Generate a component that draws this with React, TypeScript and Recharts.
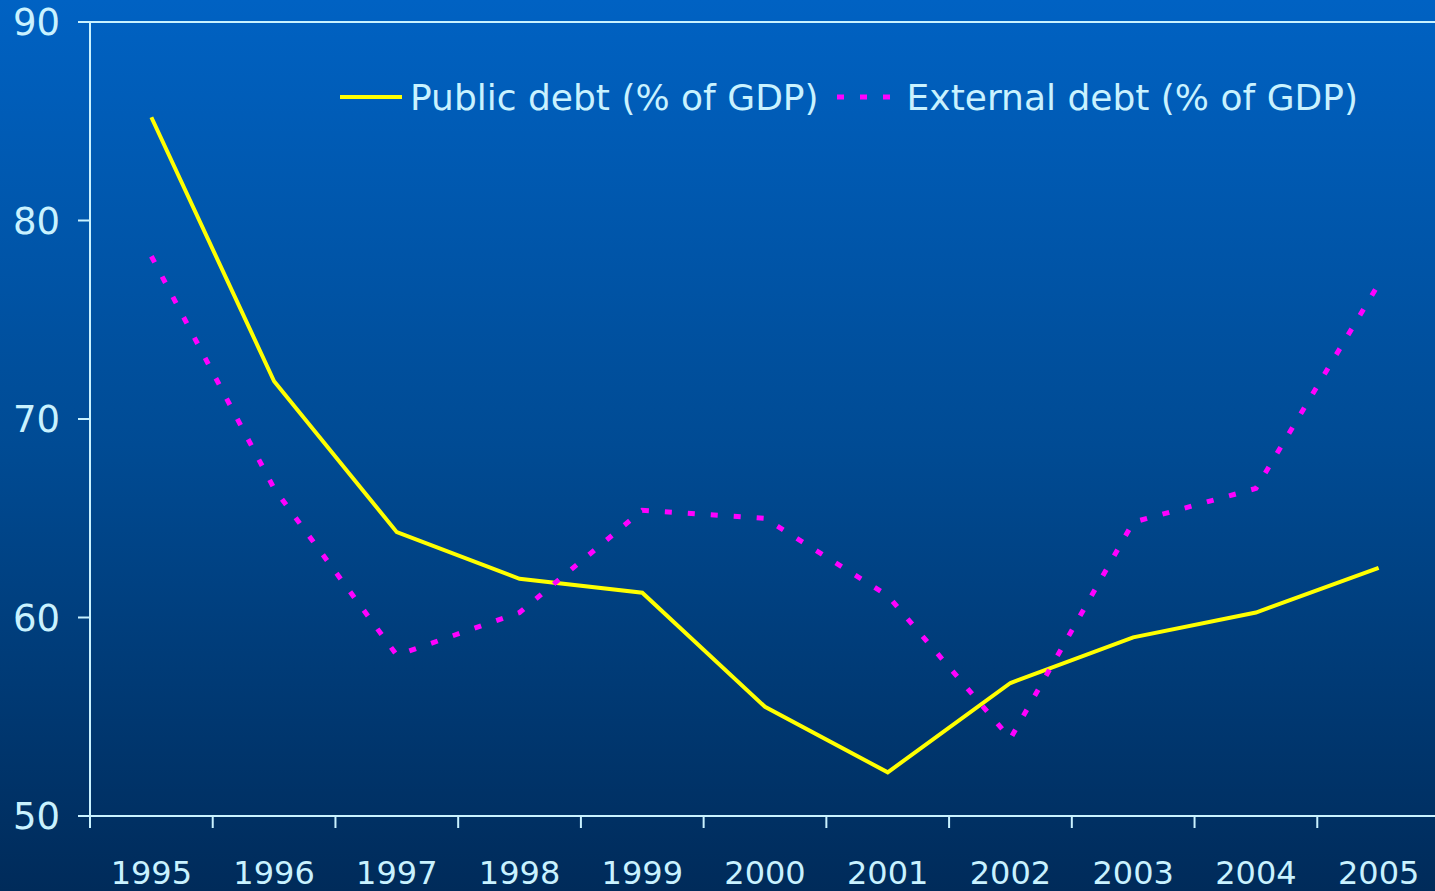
import { LineChart, Line, XAxis, YAxis, ReferenceLine } from "recharts"

const years = ["1995", "1996", "1997", "1998", "1999", "2000", "2001", "2002", "2003", "2004", "2005"]
const publicDebt = [85.2, 71.9, 64.3, 61.95, 61.25, 55.5, 52.2, 56.7, 59.0, 60.25, 62.5]
const externalDebt = [78.2, 66.5, 58.1, 60.25, 65.4, 65.0, 61.1, 53.9, 64.8, 66.5, 76.8]
const yTicks = [50, 60, 70, 80, 90]

const INK = "#c9f2ff"
const FONT = "'DejaVu Sans', Verdana, sans-serif"

// x is numeric so ticks can sit on category boundaries and labels in the middle
const data = years.map((year, i) => ({
  x: i + 0.5,
  year,
  publicDebt: publicDebt[i],
  externalDebt: externalDebt[i],
}))

const xTicks: number[] = []
for (let i = 0; i <= years.length; i++) {
  xTicks.push(i)
  if (i < years.length) xTicks.push(i + 0.5)
}

const series = [
  { key: "publicDebt", name: "Public debt (% of GDP)", color: "#ffff00", width: 4, dash: undefined as string | undefined },
  { key: "externalDebt", name: "External debt (% of GDP)", color: "#ff00ff", width: 5, dash: "7 16" },
]

const XTick = ({ x, y, payload }: any) => {
  const v = payload.value
  if (Number.isInteger(v)) {
    return <line x1={x} x2={x} y1={y} y2={y + 12} stroke={INK} strokeWidth={2} />
  }
  return (
    <text x={x} y={y + 68} textAnchor="middle" fill={INK} fontSize={32} fontFamily={FONT}>
      {years[Math.floor(v)]}
    </text>
  )
}

const ChartLegend = () => (
  <div
    style={{
      position: "absolute",
      top: 74,
      left: 340,
      display: "flex",
      alignItems: "center",
      fontFamily: FONT,
      fontSize: 36,
      color: INK,
      whiteSpace: "nowrap",
      height: 46,
    }}
  >
    {series.map((s) => (
      <div key={s.key} style={{ display: "flex", alignItems: "center", marginRight: 18 }}>
        <svg width={s.dash ? 56 : 62} height={10} style={{ marginRight: s.dash ? 14 : 8 }}>
          <line x1={0} x2={s.dash ? 56 : 62} y1={5} y2={5} stroke={s.color} strokeWidth={s.dash ? 5 : 4} strokeDasharray={s.dash} />
        </svg>
        <span>{s.name}</span>
      </div>
    ))}
  </div>
)

export default function App() {
  return (
    <div
      style={{
        position: "absolute",
        left: 0,
        top: 0,
        width: 1435,
        height: 891,
        overflow: "hidden",
        background: "linear-gradient(to bottom, #0062c3 0%, #004b94 50%, #002b5a 100%)",
      }}
    >
      <LineChart width={1440} height={891} data={data} margin={{ top: 22, right: 0, bottom: 0, left: 0 }}>
        <XAxis
          dataKey="x"
          type="number"
          domain={[0, years.length]}
          ticks={xTicks}
          interval={0}
          tick={<XTick />}
          tickLine={false}
          tickSize={0}
          tickMargin={0}
          height={75}
          axisLine={{ stroke: INK, strokeWidth: 2 }}
        />
        <YAxis
          domain={[50, 90]}
          ticks={yTicks}
          width={90}
          tickSize={12}
          tickMargin={18}
          tickLine={{ stroke: INK, strokeWidth: 2 }}
          axisLine={{ stroke: INK, strokeWidth: 2 }}
          tick={{ fill: INK, fontSize: 37, fontFamily: FONT }}
        />
        <ReferenceLine y={90} stroke={INK} strokeWidth={2} />
        {series.map((s) => (
          <Line
            key={s.key}
            dataKey={s.key}
            name={s.name}
            stroke={s.color}
            strokeWidth={s.width}
            strokeDasharray={s.dash}
            dot={false}
            activeDot={false}
            type="linear"
            isAnimationActive={false}
          />
        ))}
      </LineChart>
      <ChartLegend />
    </div>
  )
}
